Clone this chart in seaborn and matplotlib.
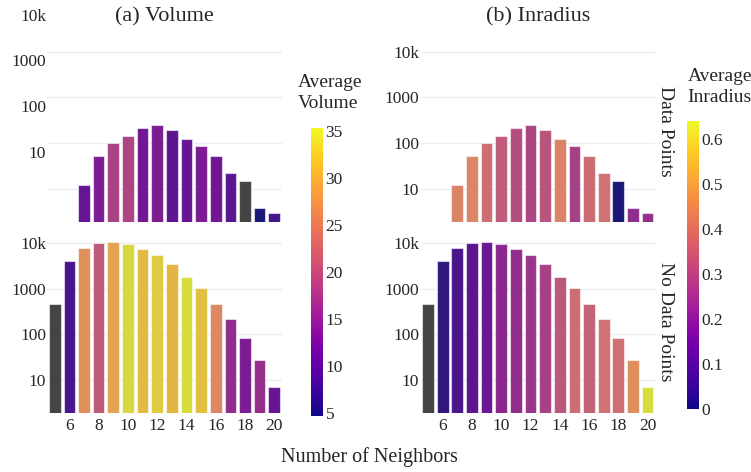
import numpy as np
import pandas as pd
import matplotlib
matplotlib.use("Agg")
import matplotlib.pyplot as plt
import matplotlib.transforms as mtransforms
from matplotlib.colors import Normalize
from matplotlib.cm import ScalarMappable
from matplotlib.ticker import FixedLocator, NullLocator
import seaborn as sns

# --- data ---
neighbors_top = list(range(7, 21))
neighbors_bottom = list(range(5, 21))

# counts (shared by both columns)
count_data = [12, 52, 99, 144, 208, 245, 195, 121, 88, 53, 22, 14.5, 3.8, 2.9]
count_nodata = [468, 4120, 7830, 10400, 10960, 9900, 7700, 5680, 3540, 1810,
                1035, 468, 219, 85, 28, 7]

# average volume (nan -> grey bar)
vol_data = [10.8, 13.3, 17.9, 18.2, 12.0, 13.3, 9.9, 11.1, 13.3, 12.2, 9.9,
            np.nan, 4.7, 7.5]
vol_nodata = [np.nan, 8.4, 27.0, 20.3, 29.2, 34.7, 31.6, 33.5, 31.3, 35.3,
              32.2, 25.8, 15.4, 13.3, 15.6, 10.8]

# average inradius
inr_data = [0.429, 0.435, 0.371, 0.333, 0.301, 0.282, 0.314, 0.429, 0.269,
            0.365, 0.378, 0.0, 0.224, 0.230]
inr_nodata = [np.nan, 0.032, 0.070, 0.109, 0.141, 0.211, 0.224, 0.243, 0.269,
              0.32, 0.371, 0.346, 0.378, 0.374, 0.461, 0.64]

VOL_RANGE = (4.7, 35.3)
INR_RANGE = (0.0, 0.64)

sns.set_style("white")
plt.rcParams['font.family'] = ['Liberation Serif', 'DejaVu Serif']

cmap = plt.get_cmap("plasma")
NAN_COLOR = "#444444"
GRID_COLOR = "#e9eef7"
TICK_FS = 12.5
LABEL_FS = 14

W, H = 751, 472
fig = plt.figure(figsize=(W / 100, H / 100), dpi=100)


def px_axes(x0, y0, x1, y1):
    # pixel box (top-left origin) -> figure axes
    return fig.add_axes([x0 / W, 1 - y1 / H, (x1 - x0) / W, (y1 - y0) / H])


def draw_panel(ax, xs, counts, cvals, rng, show_x):
    norm = Normalize(*rng)
    pal = {x: (NAN_COLOR if np.isnan(v) else cmap(norm(v))) for x, v in zip(xs, cvals)}
    df = pd.DataFrame({"n": xs, "count": counts})
    sns.barplot(data=df, x="n", y="count", hue="n", palette=pal, legend=False,
                native_scale=True, width=0.8, ax=ax,
                edgecolor=(1, 1, 1, 0.55), linewidth=0.8)
    ax.set_yscale("log")
    ax.set_ylim(1.9, 17900)
    ax.set_xlim(4.5, 20.5)
    ax.yaxis.set_major_locator(FixedLocator([10, 100, 1000, 10000]))
    ax.yaxis.set_minor_locator(NullLocator())
    ax.set_yticklabels(["10", "100", "1000", "10k"])
    ax.grid(axis="y", color=GRID_COLOR, lw=1)
    ax.grid(axis="x", visible=False)
    ax.set_axisbelow(True)
    ax.tick_params(axis="y", length=0, pad=1, labelsize=TICK_FS)
    if show_x:
        ax.set_xticks(range(6, 21, 2))
        ax.tick_params(axis="x", length=0, pad=4, labelsize=TICK_FS)
    else:
        ax.set_xticks([])
    ax.set_xlabel("")
    ax.set_ylabel("")
    sns.despine(ax=ax, left=True, bottom=True)


ax_tl = px_axes(47.4, 40, 281.6, 221.7)
ax_bl = px_axes(47.4, 232, 281.6, 412.7)
ax_tr = px_axes(420.7, 40, 654.9, 221.7)
ax_br = px_axes(420.7, 232, 654.9, 412.7)

draw_panel(ax_tl, neighbors_top, count_data, vol_data, VOL_RANGE, False)
draw_panel(ax_bl, neighbors_bottom, count_nodata, vol_nodata, VOL_RANGE, True)
draw_panel(ax_tr, neighbors_top, count_data, inr_data, INR_RANGE, False)
draw_panel(ax_br, neighbors_bottom, count_nodata, inr_nodata, INR_RANGE, True)

# top-left tick labels sit higher than their gridlines in the original
shift = mtransforms.ScaledTranslation(0, 0.37, fig.dpi_scale_trans)
for lbl in ax_tl.get_yticklabels():
    lbl.set_transform(lbl.get_transform() + shift)

# colorbars
for (x0, y0, x1, y1), rng, ticks, fmt, title, tx, ty in [
    ((310.7, 128, 322.7, 416), VOL_RANGE, range(5, 36, 5), "{:d}",
     "Average\nVolume", 298, 93),
    ((687, 121, 699, 409), INR_RANGE, [0, 0.1, 0.2, 0.3, 0.4, 0.5, 0.6], "{:g}",
     "Average\nInradius", 687.7, 87),
]:
    cax = px_axes(x0, y0, x1, y1)
    cb = fig.colorbar(ScalarMappable(norm=Normalize(*rng), cmap=cmap), cax=cax)
    cb.outline.set_visible(False)
    cb.set_ticks(list(ticks))
    cb.set_ticklabels([fmt.format(t) for t in ticks])
    cax.tick_params(length=0, pad=2, labelsize=TICK_FS)
    fig.text(tx / W, 1 - ty / H, title, ha="left", va="center", fontsize=LABEL_FS,
             linespacing=1.38)

# titles and labels
fig.text(164.5 / W, 1 - 17 / H, "(a) Volume", ha="center", va="center", fontsize=16)
fig.text(537.8 / W, 1 - 17 / H, "(b) Inradius", ha="center", va="center", fontsize=16)
fig.text(369 / W, 1 - 457 / H, "Number of Neighbors", ha="center", va="center",
         fontsize=14.5)
fig.text(665.7 / W, 1 - 131 / H, "Data Points", rotation=-90, ha="center",
         va="center", fontsize=LABEL_FS)
fig.text(665.7 / W, 1 - 322 / H, "No Data Points", rotation=-90, ha="center",
         va="center", fontsize=LABEL_FS)

fig.savefig("out.png", dpi=100)
